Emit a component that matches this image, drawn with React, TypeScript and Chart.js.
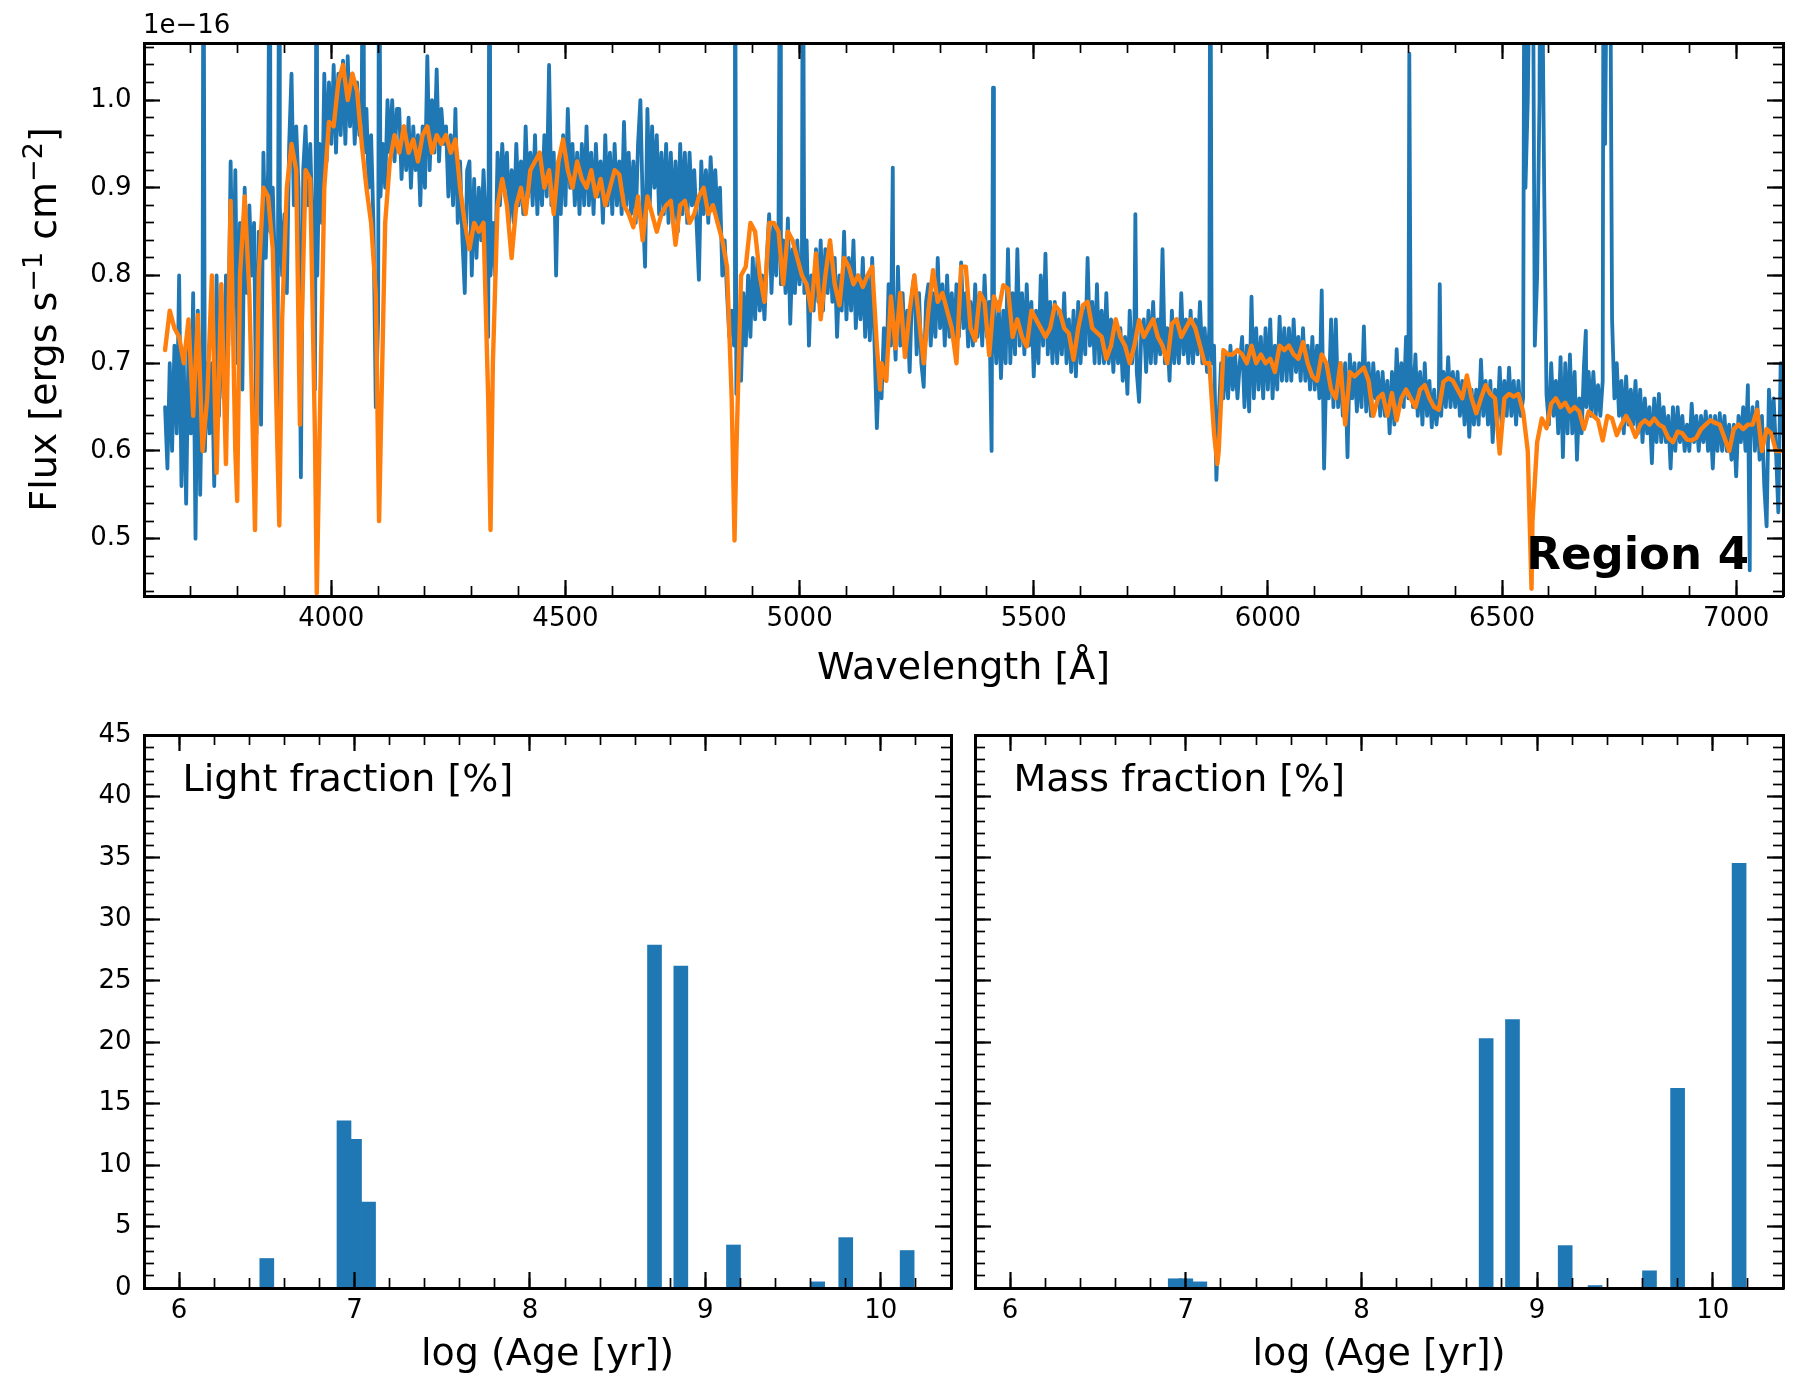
import React, { useEffect, useRef } from 'react';
import { Chart, registerables } from 'chart.js';

Chart.register(...registerables);

const FONT = 'DejaVu Sans';
const BLUE = '#1f77b4';
const ORANGE = '#ff7f0e';
const TICK_FONT = 26;
const LABEL_FONT = 38;

// Spectrum, flux in units of 1e-16 ergs/s/cm2. Observed: one value every 5 A from 3645 A
const OBS_START = 3645;
const OBS_STEP = 5;
const observedFlux = [
  0.65, 0.58, 0.70, 0.60, 0.72, 0.62, 0.80, 0.56, 0.70, 0.54, // 3645
  0.72, 0.62, 0.78, 0.50, 0.76, 0.55, 0.72, 0.60, 0.70, 0.62, // 3695
  0.70, 0.56, 0.80, 0.64, 0.78, 0.66, 0.80, 0.72, 0.93, 0.75, // 3745
  0.92, 0.70, 0.86, 0.67, 0.90, 0.78, 0.88, 0.80, 0.86, 0.62, // 3795
  0.85, 0.63, 0.94, 0.82, 0.92, 0.85, 0.90, 0.80, 0.64, 0.88, // 3845
  0.80, 0.87, 0.78, 0.95, 1.03, 0.88, 0.97, 0.90, 0.57, 0.92, // 3895
  0.97, 0.88, 0.95, 0.85, 0.67, 0.80, 0.95, 0.86, 1.03, 0.93, // 3945
  1.02, 0.95, 1.04, 0.94, 1.03, 0.96, 1.045, 0.95, 1.05, 0.97, // 3995
  1.03, 0.95, 1.02, 0.96, 1.00, 0.94, 0.99, 0.90, 0.96, 0.86, // 4045
  0.65, 0.75, 0.89, 0.95, 0.90, 1.00, 0.94, 1.00, 0.93, 0.99, // 4095
  0.99, 0.91, 0.97, 0.92, 0.98, 0.90, 0.97, 0.92, 0.96, 0.88, // 4145
  0.97, 0.90, 1.05, 0.92, 1.00, 0.94, 1.035, 0.93, 0.99, 0.95, // 4195
  0.97, 0.89, 0.96, 0.88, 0.99, 0.86, 0.93, 0.84, 0.78, 0.92, // 4245
  0.93, 0.80, 0.91, 0.82, 0.90, 0.84, 0.92, 0.86, 0.73, 0.80, // 4295
  0.86, 0.80, 0.94, 0.88, 0.95, 0.90, 0.94, 0.86, 0.92, 0.86, // 4345
  0.95, 0.88, 0.93, 0.87, 0.97, 0.89, 0.94, 0.88, 0.96, 0.87, // 4395
  0.94, 0.88, 0.96, 0.89, 1.04, 0.88, 0.94, 0.80, 0.93, 0.87, // 4445
  0.96, 0.88, 0.99, 0.90, 0.95, 0.88, 0.94, 0.87, 0.95, 0.88, // 4495
  0.97, 0.88, 0.94, 0.87, 0.95, 0.89, 0.93, 0.86, 0.96, 0.88, // 4545
  0.94, 0.87, 0.95, 0.88, 0.93, 0.87, 0.975, 0.88, 0.94, 0.87, // 4595
  0.93, 0.86, 0.95, 1.00, 0.88, 0.81, 0.99, 0.88, 0.97, 0.90, // 4645
  0.96, 0.87, 0.94, 0.87, 0.95, 0.86, 0.94, 0.86, 0.93, 0.85, // 4695
  0.95, 0.87, 0.94, 0.86, 0.94, 0.88, 0.92, 0.86, 0.795, 0.93, // 4745
  0.87, 0.92, 0.86, 0.935, 0.88, 0.92, 0.86, 0.90, 0.80, 0.84, // 4795
  0.78, 0.73, 0.76, 0.72, 0.665, 0.74, 0.68, 0.78, 0.72, 0.80, // 4845
  0.73, 0.82, 0.75, 0.82, 0.76, 0.80, 0.75, 0.82, 0.87, 0.78, // 4895
  0.86, 0.80, 0.86, 0.79, 0.84, 0.78, 0.865, 0.745, 0.83, 0.78, // 4945
  0.84, 0.79, 0.82, 0.78, 0.84, 0.72, 0.80, 0.76, 0.83, 0.77, // 4995
  0.84, 0.76, 0.83, 0.78, 0.84, 0.77, 0.82, 0.73, 0.80, 0.76, // 5045
  0.85, 0.75, 0.82, 0.76, 0.84, 0.74, 0.80, 0.75, 0.82, 0.73, // 5095
  0.80, 0.726, 0.82, 0.72, 0.626, 0.70, 0.66, 0.74, 0.68, 0.79, // 5145
  0.72, 0.76, 0.704, 0.81, 0.72, 0.78, 0.71, 0.76, 0.69, 0.78, // 5195
  0.80, 0.71, 0.78, 0.70, 0.673, 0.77, 0.79, 0.72, 0.78, 0.73, // 5245
  0.82, 0.74, 0.79, 0.72, 0.80, 0.73, 0.78, 0.72, 0.79, 0.73, // 5295
  0.815, 0.74, 0.78, 0.719, 0.77, 0.72, 0.79, 0.73, 0.78, 0.72, // 5345
  0.80, 0.73, 0.77, 0.60, 0.76, 0.70, 0.77, 0.683, 0.76, 0.70, // 5395
  0.83, 0.70, 0.78, 0.71, 0.83, 0.72, 0.78, 0.71, 0.79, 0.72, // 5445
  0.77, 0.685, 0.76, 0.70, 0.80, 0.72, 0.825, 0.71, 0.77, 0.70, // 5495
  0.77, 0.70, 0.76, 0.71, 0.78, 0.70, 0.75, 0.69, 0.76, 0.685, // 5545
  0.77, 0.70, 0.76, 0.71, 0.82, 0.72, 0.77, 0.70, 0.79, 0.70, // 5595
  0.76, 0.70, 0.78, 0.70, 0.75, 0.69, 0.75, 0.70, 0.74, 0.68, // 5645
  0.73, 0.665, 0.76, 0.70, 0.74, 0.69, 0.656, 0.74, 0.75, 0.69, // 5695
  0.76, 0.70, 0.77, 0.70, 0.75, 0.71, 0.83, 0.70, 0.74, 0.68, // 5745
  0.76, 0.70, 0.75, 0.70, 0.78, 0.71, 0.75, 0.70, 0.76, 0.70, // 5795
  0.75, 0.71, 0.77, 0.70, 0.74, 0.69, 0.74, 0.70, 0.72, 0.567, // 5845
  0.64, 0.70, 0.66, 0.71, 0.66, 0.72, 0.67, 0.71, 0.66, 0.70, // 5895
  0.73, 0.65, 0.72, 0.645, 0.776, 0.66, 0.74, 0.67, 0.73, 0.66, // 5945
  0.74, 0.67, 0.75, 0.66, 0.72, 0.67, 0.753, 0.68, 0.74, 0.68, // 5995
  0.74, 0.68, 0.75, 0.69, 0.73, 0.68, 0.74, 0.68, 0.72, 0.67, // 6045
  0.73, 0.67, 0.72, 0.66, 0.783, 0.58, 0.70, 0.66, 0.75, 0.65, // 6095
  0.75, 0.65, 0.70, 0.64, 0.70, 0.593, 0.71, 0.66, 0.70, 0.645, // 6145
  0.70, 0.65, 0.742, 0.645, 0.70, 0.64, 0.70, 0.66, 0.69, 0.64, // 6195
  0.69, 0.64, 0.68, 0.62, 0.69, 0.63, 0.716, 0.65, 0.70, 0.65, // 6245
  0.73, 0.66, 0.70, 0.65, 0.71, 0.64, 0.69, 0.63, 0.70, 0.64, // 6295
  0.68, 0.627, 0.67, 0.63, 0.66, 0.64, 0.69, 0.65, 0.707, 0.65, // 6345
  0.69, 0.65, 0.69, 0.64, 0.68, 0.63, 0.68, 0.616, 0.67, 0.63, // 6395
  0.67, 0.63, 0.704, 0.64, 0.68, 0.63, 0.68, 0.61, 0.67, 0.63, // 6445
  0.695, 0.63, 0.68, 0.64, 0.695, 0.64, 0.68, 0.63, 0.68, 0.64, // 6495
  0.66, 0.90, 1.00, 1.20, 1.30, 0.72, 0.80, 1.00, 1.20, 0.90, // 6545
  0.664, 0.63, 0.70, 0.64, 0.68, 0.62, 0.707, 0.593, 0.70, 0.62, // 6595
  0.71, 0.62, 0.69, 0.59, 0.66, 0.62, 0.698, 0.65, 0.69, 0.64, // 6645
  0.69, 0.64, 0.675, 0.64, 0.68, 0.95, 1.25, 1.30, 0.75, 0.66, // 6695
  0.70, 0.64, 0.68, 0.62, 0.685, 0.63, 0.67, 0.63, 0.68, 0.62, // 6745
  0.67, 0.61, 0.66, 0.62, 0.65, 0.586, 0.66, 0.61, 0.665, 0.61, // 6795
  0.65, 0.61, 0.64, 0.58, 0.65, 0.60, 0.65, 0.61, 0.64, 0.60, // 6845
  0.63, 0.60, 0.654, 0.61, 0.64, 0.60, 0.64, 0.61, 0.645, 0.60, // 6895
  0.64, 0.58, 0.64, 0.60, 0.643, 0.60, 0.64, 0.60, 0.63, 0.59, // 6945
  0.63, 0.571, 0.64, 0.61, 0.65, 0.60, 0.675, 0.62, 0.65, 0.60, // 6995
  0.656, 0.59, 0.64, 0.56, 0.514, 0.67, 0.62, 0.66, 0.60, 0.53, // 7045
  0.70, 0.62, // 7095
];

// Model: one value every 10 A from 3645 A
const MODEL_START = 3645;
const MODEL_STEP = 10;
const modelFlux = [
  0.715, 0.76, 0.74, 0.73, 0.70, 0.75, 0.64, 0.755, 0.60, 0.66, // 3645
  0.80, 0.575, 0.79, 0.585, 0.885, 0.60, 0.80, 0.89, 0.78, 0.56, // 3745
  0.80, 0.90, 0.89, 0.83, 0.60, 0.75, 0.90, 0.95, 0.92, 0.70, // 3845
  0.92, 0.91, 0.62, 0.62, 0.90, 0.975, 0.97, 1.02, 1.04, 1.00, // 3945
  1.03, 1.01, 0.95, 0.90, 0.86, 0.78, 0.60, 0.86, 0.93, 0.96, // 4045
  0.94, 0.97, 0.94, 0.955, 0.93, 0.96, 0.97, 0.94, 0.96, 0.95, // 4145
  0.96, 0.94, 0.955, 0.90, 0.86, 0.83, 0.86, 0.85, 0.86, 0.66, // 4245
  0.70, 0.88, 0.91, 0.88, 0.82, 0.88, 0.90, 0.87, 0.92, 0.93, // 4345
  0.94, 0.90, 0.92, 0.87, 0.93, 0.955, 0.92, 0.90, 0.93, 0.91, // 4445
  0.90, 0.92, 0.89, 0.91, 0.88, 0.90, 0.92, 0.915, 0.88, 0.87, // 4545
  0.855, 0.89, 0.84, 0.89, 0.87, 0.85, 0.87, 0.88, 0.885, 0.835, // 4645
  0.88, 0.885, 0.86, 0.87, 0.89, 0.90, 0.87, 0.88, 0.86, 0.84, // 4745
  0.81, 0.66, 0.60, 0.80, 0.81, 0.86, 0.85, 0.80, 0.77, 0.86, // 4845
  0.86, 0.85, 0.79, 0.85, 0.84, 0.82, 0.80, 0.79, 0.76, 0.825, // 4945
  0.75, 0.80, 0.84, 0.79, 0.766, 0.82, 0.81, 0.79, 0.80, 0.787, // 5045
  0.80, 0.81, 0.72, 0.70, 0.68, 0.776, 0.717, 0.78, 0.707, 0.76, // 5145
  0.80, 0.75, 0.70, 0.76, 0.806, 0.77, 0.78, 0.76, 0.74, 0.70, // 5245
  0.81, 0.81, 0.74, 0.726, 0.78, 0.77, 0.709, 0.776, 0.76, 0.789, // 5345
  0.785, 0.73, 0.75, 0.73, 0.719, 0.76, 0.75, 0.74, 0.73, 0.74, // 5445
  0.766, 0.76, 0.74, 0.734, 0.704, 0.74, 0.766, 0.77, 0.74, 0.735, // 5545
  0.73, 0.705, 0.72, 0.75, 0.73, 0.72, 0.70, 0.72, 0.749, 0.73, // 5645
  0.74, 0.75, 0.73, 0.72, 0.70, 0.745, 0.75, 0.73, 0.74, 0.75, // 5745
  0.74, 0.72, 0.70, 0.70, 0.62, 0.60, 0.715, 0.71, 0.71, 0.715, // 5845
  0.71, 0.70, 0.72, 0.70, 0.71, 0.70, 0.705, 0.69, 0.72, 0.715, // 5945
  0.72, 0.71, 0.705, 0.724, 0.70, 0.685, 0.68, 0.71, 0.70, 0.67, // 6045
  0.66, 0.70, 0.63, 0.69, 0.685, 0.69, 0.695, 0.68, 0.64, 0.66, // 6145
  0.665, 0.64, 0.666, 0.635, 0.66, 0.67, 0.66, 0.65, 0.67, 0.675, // 6245
  0.66, 0.65, 0.647, 0.679, 0.683, 0.68, 0.67, 0.66, 0.686, 0.66, // 6345
  0.643, 0.66, 0.675, 0.665, 0.66, 0.597, 0.66, 0.665, 0.662, 0.665, // 6445
  0.645, 0.60, 0.52, 0.61, 0.637, 0.626, 0.654, 0.66, 0.65, 0.655, // 6545
  0.645, 0.65, 0.645, 0.625, 0.645, 0.64, 0.635, 0.612, 0.64, 0.637, // 6645
  0.618, 0.63, 0.64, 0.63, 0.616, 0.63, 0.635, 0.63, 0.637, 0.63, // 6745
  0.627, 0.615, 0.61, 0.622, 0.62, 0.613, 0.612, 0.615, 0.625, 0.63, // 6845
  0.635, 0.632, 0.63, 0.615, 0.60, 0.625, 0.63, 0.625, 0.63, 0.63, // 6945
  0.647, 0.60, 0.625, 0.62, 0.60, 0.60, // 7045
];

// emission lines of the observed spectrum that fall between grid points
const obsLineWave = [3727, 3869, 3889, 3969, 4068, 4102, 4338, 4862, 4959, 5007, 5199, 5413, 5717, 5877, 6302, 6367, 6548, 6563, 6583, 6679, 6717, 7029];
const obsLineFlux = [1.3, 1.3, 1.3, 1.3, 1.3, 1.3, 1.3, 1.3, 1.3, 1.3, 0.923, 1.014, 0.87, 1.3, 1.053, 0.79, 1.3, 1.6, 1.4, 0.737, 1.35, 0.464];
// absorption line cores of the model spectrum
const modelLineWave = [3799, 3837, 3889, 3933, 3969, 4102, 4340, 4861, 5172, 5892, 6563];
const modelLineFlux = [0.543, 0.51, 0.515, 0.63, 0.438, 0.52, 0.51, 0.498, 0.67, 0.585, 0.443];

const waveTicks = [4000, 4500, 5000, 5500, 6000, 6500, 7000];
const fluxTicks = [0.5, 0.6, 0.7, 0.8, 0.9, 1.0];

// Star formation history
const ages = [6.5, 6.94, 7.0, 7.08, 8.71, 8.86, 9.16, 9.33, 9.64, 9.8, 10.15];
const lightFraction = [2.4, 13.6, 12.1, 7.0, 27.9, 26.2, 3.5, 0.0, 0.5, 4.1, 3.05];
const massFraction = [0.0, 0.75, 0.75, 0.5, 20.3, 21.85, 3.45, 0.2, 1.4, 16.25, 34.55];

const ageTicks = [6, 7, 8, 9, 10];
const percentTicks = [0, 5, 10, 15, 20, 25, 30, 35, 40, 45];

const steps = (from: number, to: number, step: number) => {
  const out: number[] = [];
  for (let k = Math.round(from / step); k <= Math.round(to / step); k++) out.push(+(k * step).toFixed(6));
  return out;
};

function buildSeries(grid: number[], start: number, step: number, wave: number[], flux: number[]) {
  const pts = grid.map((y, i) => ({ x: start + i * step, y }));
  wave.forEach((x, i) => pts.push({ x, y: flux[i] }));
  return pts.sort((a, b) => a.x - b.x);
}

type Side = 'left' | 'right' | 'top' | 'bottom';

// one set of tick marks along one side of the frame; zero-size axes sit right on the frame
function axis(side: Side, range: number[], values: number[], len: number, size: number, border: boolean,
  format?: (v: number) => string, title?: string, titleGap = 0) {
  const horizontal = side === 'top' || side === 'bottom';
  return {
    type: 'linear',
    position: side,
    axis: horizontal ? 'x' : 'y',
    weight: size > 0 ? 0 : -1,
    min: range[0],
    max: range[1],
    bounds: 'data',
    offset: false,
    afterBuildTicks: (s: any) => { s.ticks = values.map((value) => ({ value })); },
    afterFit: (s: any) => {
      if (horizontal) s.height = size; else s.width = size;
      s.paddingLeft = 0; s.paddingRight = 0; s.paddingTop = 0; s.paddingBottom = 0;
    },
    grid: {
      display: true, z: 1, drawOnChartArea: false, drawTicks: true, offset: false,
      tickLength: -len, tickWidth: len > 12 ? 2.2 : 1.7, tickColor: '#000', color: '#000',
    },
    border: { display: border, z: 1, color: '#000', width: 3 },
    ticks: format
      ? {
        display: true, autoSkip: false, maxRotation: 0, minRotation: 0, color: '#000',
        font: { family: FONT, size: TICK_FONT },
        padding: horizontal ? len + 7.4 : len + 12.5,
        callback: (v: any) => format(Number(v)),
      }
      : { display: false },
    title: title
      ? { display: true, text: title, color: '#000', font: { family: FONT, size: LABEL_FONT }, padding: { top: 0, bottom: titleGap } }
      : { display: false },
  };
}

interface BoxSpec {
  xRange: number[]; yRange: number[];
  xMajor: number[]; xMinor: number[]; yMajor: number[]; yMinor: number[];
  left: number; bottom: number;
  xFormat: (v: number) => string; yFormat?: (v: number) => string;
  xTitle: string; xTitleGap: number;
}

function boxScales(b: BoxSpec) {
  return {
    x: axis('bottom', b.xRange, b.xMajor, 16, b.bottom, true, b.xFormat, b.xTitle, b.xTitleGap),
    xMinor: axis('bottom', b.xRange, b.xMinor, 10, 0, false),
    xTop: axis('top', b.xRange, b.xMajor, 16, 0, true),
    xTopMinor: axis('top', b.xRange, b.xMinor, 10, 0, false),
    y: axis('left', b.yRange, b.yMajor, 16, b.left, true, b.yFormat),
    yMinor: axis('left', b.yRange, b.yMinor, 10, 0, false),
    yRight: axis('right', b.yRange, b.yMajor, 16, 0, true),
    yRightMinor: axis('right', b.yRange, b.yMinor, 10, 0, false),
  };
}

function drawFluxTitle(ctx: CanvasRenderingContext2D, baseX: number, centerY: number) {
  const parts: [string, boolean][] = [['Flux [ergs s', false], ['\u22121', true], [' cm', false], ['\u22122', true], [']', false]];
  const mainFont = `${LABEL_FONT}px "${FONT}"`;
  const supFont = `${Math.round(LABEL_FONT * 0.7)}px "${FONT}"`;
  const widths = parts.map(([t, sup]) => { ctx.font = sup ? supFont : mainFont; return ctx.measureText(t).width; });
  const total = widths.reduce((a, b) => a + b, 0);
  ctx.save();
  ctx.translate(baseX, centerY);
  ctx.rotate(-Math.PI / 2);
  ctx.textAlign = 'left';
  ctx.textBaseline = 'alphabetic';
  let x = -total / 2;
  parts.forEach(([t, sup], i) => {
    ctx.font = sup ? supFont : mainFont;
    ctx.fillText(t, x, sup ? -14 : 0);
    x += widths[i];
  });
  ctx.restore();
}

const spectrumText = {
  id: 'spectrumText',
  afterDraw(chart: Chart) {
    const { ctx, chartArea } = chart;
    ctx.save();
    ctx.fillStyle = '#000';
    ctx.textBaseline = 'alphabetic';
    ctx.textAlign = 'left';
    ctx.font = `${TICK_FONT}px "${FONT}"`;
    ctx.fillText('1e\u221216', chartArea.left - 1, chartArea.top - 10);
    ctx.textAlign = 'right';
    ctx.font = `bold 45px "${FONT}"`;
    ctx.fillText('Region 4', chartArea.right - 34, chartArea.bottom - 27);
    drawFluxTitle(ctx, chartArea.left - 88, (chartArea.top + chartArea.bottom) / 2);
    ctx.restore();
  },
};

const panelText = (text: string) => ({
  id: 'panelText',
  afterDraw(chart: Chart) {
    const { ctx, chartArea } = chart;
    ctx.save();
    ctx.fillStyle = '#000';
    ctx.textAlign = 'left';
    ctx.textBaseline = 'alphabetic';
    ctx.font = `${LABEL_FONT}px "${FONT}"`;
    ctx.fillText(text, chartArea.left + 38.5, chartArea.top + 56);
    ctx.restore();
  },
});

const AGE_RANGE = [5.8, 10.4];
const BAR_PX = 14; // 0.08 dex at ~175 px per dex

function barChart(canvas: HTMLCanvasElement, values: number[], title: string, left: number, right: number, withLabels: boolean) {
  return new Chart(canvas, {
    type: 'bar',
    data: {
      datasets: [{
        data: ages.map((x, i) => ({ x, y: values[i] })),
        backgroundColor: BLUE,
        borderWidth: 0,
        barThickness: BAR_PX,
      }],
    },
    options: {
      animation: false,
      responsive: false,
      events: [],
      layout: { padding: { top: 35, right, bottom: 0, left: 0 } },
      plugins: { legend: { display: false }, tooltip: { enabled: false } },
      scales: boxScales({
        xRange: AGE_RANGE, yRange: [0, 45],
        xMajor: ageTicks, xMinor: steps(6, 10.2, 0.2),
        yMajor: percentTicks, yMinor: steps(1, 44, 1),
        left, bottom: 112,
        xFormat: (v) => String(v), yFormat: withLabels ? (v) => String(v) : undefined,
        xTitle: 'log (Age [yr])', xTitleGap: 22.2,
      }) as any,
    },
    plugins: [panelText(title)],
  } as any);
}

const App: React.FC = () => {
  const specRef = useRef<HTMLCanvasElement | null>(null);
  const lightRef = useRef<HTMLCanvasElement | null>(null);
  const massRef = useRef<HTMLCanvasElement | null>(null);

  useEffect(() => {
    Chart.defaults.font.family = FONT;
    Chart.defaults.color = '#000';
    const charts: Chart[] = [];

    if (specRef.current) {
      const lineStyle = { pointRadius: 0, tension: 0, borderJoinStyle: 'round', borderCapStyle: 'round', clip: 0 };
      charts.push(new Chart(specRef.current, {
        type: 'line',
        data: {
          datasets: [
            {
              label: 'model', data: buildSeries(modelFlux, MODEL_START, MODEL_STEP, modelLineWave, modelLineFlux),
              borderColor: ORANGE, borderWidth: 4.4, order: 0, ...lineStyle,
            },
            {
              label: 'observed', data: buildSeries(observedFlux, OBS_START, OBS_STEP, obsLineWave, obsLineFlux),
              borderColor: BLUE, borderWidth: 3.8, order: 1, ...lineStyle,
            },
          ],
        },
        options: {
          animation: false,
          responsive: false,
          parsing: false,
          events: [],
          layout: { padding: { top: 43, right: 17, bottom: 0, left: 0 } },
          plugins: { legend: { display: false }, tooltip: { enabled: false } },
          scales: boxScales({
            xRange: [3600, 7100], yRange: [0.4347, 1.065],
            xMajor: waveTicks, xMinor: steps(3700, 7000, 100),
            yMajor: fluxTicks, yMinor: steps(0.44, 1.06, 0.02),
            left: 144, bottom: 104,
            xFormat: (v) => String(v), yFormat: (v) => v.toFixed(1),
            xTitle: 'Wavelength [Å]', xTitleGap: 8.2,
          }) as any,
        },
        plugins: [spectrumText],
      } as any));
    }
    if (lightRef.current) charts.push(barChart(lightRef.current, lightFraction, 'Light fraction [%]', 144, 9, true));
    if (massRef.current) charts.push(barChart(massRef.current, massFraction, 'Mass fraction [%]', 15, 17, false));

    return () => charts.forEach((c) => c.destroy());
  }, []);

  return (
    <div style={{ position: 'absolute', left: 0, top: 0, width: 1800, height: 1400, background: '#fff' }}>
      <canvas ref={specRef} width={1800} height={700} style={{ position: 'absolute', left: 0, top: 0 }} />
      <canvas ref={lightRef} width={960} height={700} style={{ position: 'absolute', left: 0, top: 700 }} />
      <canvas ref={massRef} width={840} height={700} style={{ position: 'absolute', left: 960, top: 700 }} />
    </div>
  );
};

export default App;
